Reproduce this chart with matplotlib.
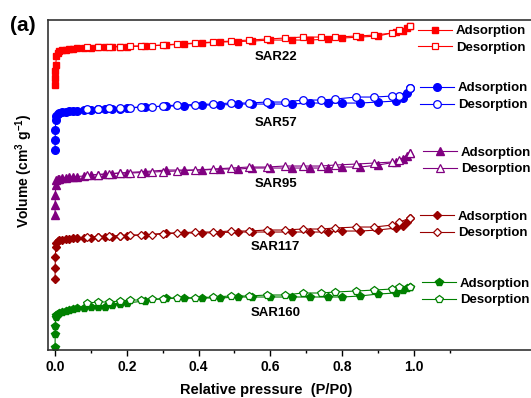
import matplotlib

matplotlib.use("Agg")
import matplotlib.pyplot as plt
from matplotlib.legend import Legend

plt.rcParams["font.family"] = ["Liberation Sans", "DejaVu Sans"]
plt.rcParams["font.weight"] = "bold"
plt.rcParams["mathtext.fontset"] = "custom"
plt.rcParams["mathtext.rm"] = "Liberation Sans:bold"
plt.rcParams["mathtext.bf"] = "Liberation Sans:bold"

# ── Data (stacked isotherms, arbitrary offset volume units) ────────────

ads_p = [0.0002, 0.0005, 0.001, 0.002, 0.004, 0.007, 0.01, 0.02, 0.03, 0.04,
         0.05, 0.06, 0.08, 0.10, 0.12, 0.14, 0.16, 0.18, 0.20, 0.25, 0.31,
         0.36, 0.41, 0.46, 0.51, 0.55, 0.60, 0.66, 0.71, 0.76, 0.80, 0.85,
         0.90, 0.95, 0.97, 0.98, 0.99]
des_p = [0.99, 0.96, 0.94, 0.89, 0.84, 0.78, 0.74, 0.69, 0.64, 0.59, 0.54,
         0.49, 0.44, 0.39, 0.34, 0.30, 0.27, 0.24, 0.21, 0.18, 0.15, 0.12, 0.09]

sar22_ads = [265, 272, 279, 285, 294, 297, 299, 300, 300.5, 301, 301.5, 302,
             302.5, 302.5, 303, 303, 303, 303.5, 303.5, 304, 305, 306, 307, 308,
             308.5, 309, 310, 310, 310, 311, 312, 313, 314, 318, 319, 322, 324]
sar22_des = [324, 320, 317, 315, 314, 313, 313, 313, 312, 311, 310, 309, 308,
             307, 306, 305, 304.5, 304, 304, 303.5, 303.5, 303, 303]

sar57_ads = [200, 210, 220, 230, 234, 236, 237, 238, 238.5, 239, 239, 239.5,
             240, 240.5, 241, 241, 241.5, 241.5, 242, 243, 244, 244, 245, 245,
             246, 246, 246, 246, 247, 247, 247, 247, 248, 249, 252, 257, 262]
sar57_des = [262, 254, 254, 253, 253, 251, 250, 250, 248, 248, 247, 247, 246,
             245.5, 245, 244, 243, 243, 242.5, 242, 242, 241.5, 241]

sar95_ads = [135, 145, 155, 165, 170, 171, 171.5, 172, 172.5, 173, 173, 173.5,
             174, 175, 175.5, 176, 176.5, 177, 177.5, 178.5, 180, 180, 180, 181,
             181, 182, 182, 182, 182, 182, 183, 183, 185, 188, 191, 194, 197]
sar95_des = [197, 190, 188, 187, 186, 185, 184, 184, 184, 183, 183, 182, 181,
             180, 179, 178.5, 178, 177.5, 177, 177, 176, 175.5, 175]

sar117_ads = [71, 82, 93, 103, 107, 109, 110, 110.5, 111, 111.5, 112, 112,
              112, 112.5, 113, 113, 113, 114, 114.5, 115, 117, 117, 117, 117.5,
              118, 118, 118, 118, 118, 118, 119, 119, 120, 122, 124, 128, 132]
sar117_des = [132, 128, 125, 123, 123, 122, 121, 121, 120, 120, 119, 119, 118,
              118, 117, 116, 115.5, 115, 115, 114.5, 114, 113.5, 113]

sar160_ads = [3, 16, 24, 33, 35, 36, 37, 38, 39, 40, 41, 42, 42.5, 43, 43,
              43.5, 45, 46, 47, 49, 52, 52, 52, 52, 53, 53, 53, 53, 53, 53, 53,
              54, 56, 57, 60, 62, 63]
sar160_des = [63, 63, 61, 60, 59, 58, 57, 57, 55, 55, 54, 54, 53, 52, 52, 51,
              51, 50, 50, 49, 48, 48, 47]

sample_names = ["SAR22", "SAR57", "SAR95", "SAR117", "SAR160"]
name_levels = [293, 227, 166, 103, 37]

# ── Style ──────────────────────────────────────────────────────────────

STYLES = [
    # color, marker, legend anchor (axes fraction)
    ("#FF0000", "s", (0.722, 0.941)),
    ("#0000FF", "o", (0.726, 0.768)),
    ("#800080", "^", (0.732, 0.573)),
    ("#990000", "D", (0.726, 0.379)),
    ("#008000", "p", (0.730, 0.176)),
]
MARKER_SIZE = {"s": 5, "o": 5.5, "^": 5.5, "D": 4.5, "p": 6}

fig = plt.figure(figsize=(5.31, 3.98), dpi=100)
ax = fig.add_axes([0.0904, 0.1206, 0.964, 0.829])

series = [
    (sar22_ads, sar22_des),
    (sar57_ads, sar57_des),
    (sar95_ads, sar95_des),
    (sar117_ads, sar117_des),
    (sar160_ads, sar160_des),
]

for (ads, des), (color, marker, anchor), name, level in zip(
    series, STYLES, sample_names, name_levels
):
    ms = MARKER_SIZE[marker]
    h_ads, = ax.plot(ads_p, ads, color=color, marker=marker, ms=ms, lw=0.8,
                     mec=color, mfc=color)
    h_des, = ax.plot(des_p, des, color=color, marker=marker, ms=ms, lw=0.8,
                     mec=color, mfc="white", mew=0.9)
    leg = Legend(ax, [h_ads, h_des], ["Adsorption", "Desorption"],
                 loc="center left", bbox_to_anchor=anchor, frameon=False,
                 fontsize=9.5, handlelength=2.6, handletextpad=0.3,
                 borderpad=0, borderaxespad=0, labelspacing=0.35)
    ax.add_artist(leg)
    ax.text(0.615, level, name, ha="center", va="center", fontsize=9.5,
            fontweight="bold")

ax.set_xlim(-0.0195, 1.407)
ax.set_ylim(0, 330)
ax.xaxis.set_major_locator(plt.FixedLocator([0.0, 0.2, 0.4, 0.6, 0.8, 1.0]))
ax.xaxis.set_minor_locator(plt.FixedLocator([0.1, 0.3, 0.5, 0.7, 0.9, 1.1]))
ax.set_xticklabels(["0.0", "0.2", "0.4", "0.6", "0.8", "1.0"], fontsize=10,
                   fontweight="bold")
ax.tick_params(axis="x", which="major", direction="out", length=4, width=1)
ax.tick_params(axis="x", which="minor", direction="out", length=2.5, width=1)
ax.set_yticks([])
for sp in ax.spines.values():
    sp.set_linewidth(1.2)
    sp.set_color("#333333")

ax.set_xlabel("Relative pressure  (P/P0)", fontsize=10.5, fontweight="bold")
ax.xaxis.set_label_coords(0.426, -0.10)
ax.set_ylabel(r"Volume (cm$^{\mathbf{3}}$ g$^{\mathbf{-1}}$)", fontsize=10,
              fontweight="bold")
ax.yaxis.set_label_coords(-0.026, 0.542)

fig.text(0.019, 0.937, "(a)", fontsize=15, fontweight="bold", ha="left",
         va="center")

fig.savefig("out.png", dpi=100)
